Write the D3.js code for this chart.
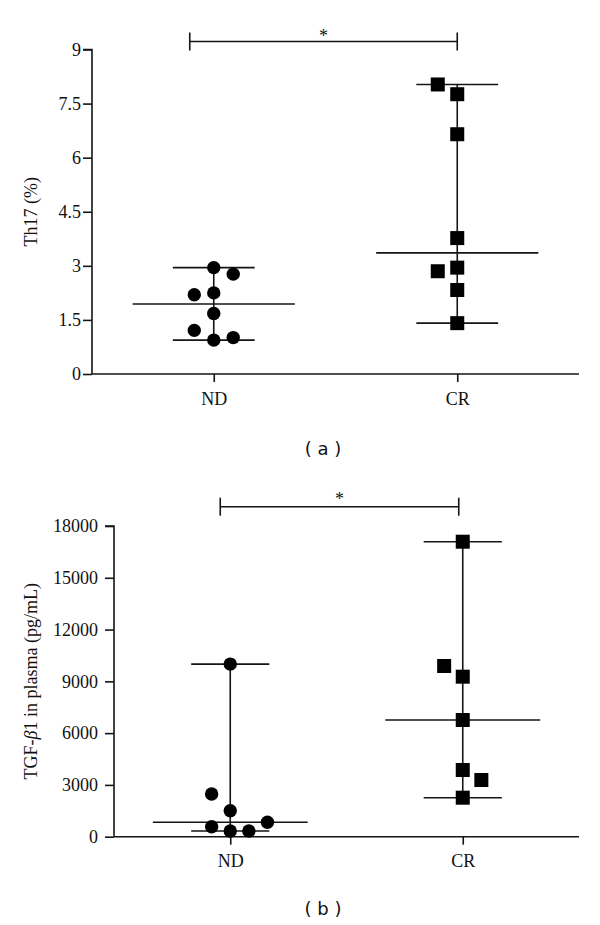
<!DOCTYPE html>
<html>
<head>
<meta charset="utf-8">
<script src="https://cdn.jsdelivr.net/npm/d3@7"></script>
<style>
  html, body { margin: 0; padding: 0; background: #fff; }
  svg { display: block; }
</style>
</head>
<body>
<svg id="chart" width="600" height="925"></svg>
<script>
// ---------- data ----------
const categories = ["ND", "CR"];

// Panel (a): Th17 (%)
const th17ND     = [2.95, 2.77, 2.25, 2.20, 1.68, 1.21, 1.01, 0.94];
const th17NDSlot = [0, 1, 0, -1, 0, -1, 1, 0];
const th17CR     = [8.03, 7.76, 6.65, 3.77, 2.95, 2.85, 2.33, 1.41];
const th17CRSlot = [-1, 0, 0, 0, 0, -1, 0, 0];
const th17Ticks  = [0, 1.5, 3, 4.5, 6, 7.5, 9];

// Panel (b): TGF-β1 in plasma (pg/mL)
const tgfND     = [10000, 2474, 1506, 834, 580, 330, 330];
const tgfNDSlot = [0, -1, 0, 2, -1, 0, 1];
const tgfCR     = [17090, 9890, 9270, 6761, 3864, 3284, 2260];
const tgfCRSlot = [0, -1, 0, 0, 0, 1, 0];
const tgfTicks  = [0, 3000, 6000, 9000, 12000, 15000, 18000];

// ---------- drawing ----------
const svg = d3.select("#chart");
const INK = "#151515";
const SERIF = "'Liberation Serif', 'Times New Roman', serif";
const SANS = "'DejaVu Sans', Verdana, sans-serif";

function panel(cfg) {
  const g = svg.append("g");
  const x = d3.scalePoint().domain(categories).range([cfg.x0, cfg.x1]).padding(0.5);
  const step = x.step();
  const y = d3.scaleLinear().domain([0, cfg.max]).range([cfg.y0, cfg.y1]);

  // y axis
  const ya = g.append("g").attr("transform", `translate(${cfg.x0},0)`)
    .call(d3.axisLeft(y).tickValues(cfg.ticks).tickSize(9).tickPadding(cfg.tickPad).tickFormat(d => String(d)));
  ya.select(".domain").attr("d", `M-9,${y(cfg.max)}H0V${y(0)}`);
  // x axis
  const xa = g.append("g").attr("transform", `translate(0,${cfg.y0})`)
    .call(d3.axisBottom(x).tickSize(8).tickPadding(10));
  xa.select(".domain").attr("d", `M${cfg.x0},0H${cfg.x1}`);
  [ya, xa].forEach(a => {
    a.attr("font-family", SERIF).attr("font-size", 18);
    a.selectAll("path, line").attr("stroke", INK).attr("stroke-width", 1.6);
    a.selectAll("text").attr("font-family", SERIF).attr("font-size", 18).attr("fill", "#111");
  });

  // axis title
  const t = g.append("text").attr("font-family", SERIF).attr("fill", "#111")
    .attr("transform", `translate(${cfg.titleX},${(y(0) + y(cfg.max)) / 2}) rotate(-90)`)
    .attr("text-anchor", "middle").attr("dy", "0.33em").attr("font-size", 18);
  cfg.title(t);

  // groups
  cfg.groups.forEach(gr => {
    const cx = x(gr.cat);
    const vals = gr.values;
    const med = d3.median(vals), lo = d3.min(vals), hi = d3.max(vals);
    const lg = g.append("g").attr("stroke", INK).attr("stroke-width", 1.6);
    lg.append("line").attr("x1", cx).attr("x2", cx).attr("y1", y(hi)).attr("y2", y(lo));
    [hi, lo].forEach(v => lg.append("line")
      .attr("x1", cx - step * 0.168).attr("x2", cx + step * 0.168)
      .attr("y1", y(v)).attr("y2", y(v)));
    lg.append("line").attr("x1", cx - step * 0.333).attr("x2", cx + step * 0.333)
      .attr("y1", y(med)).attr("y2", y(med));

    const pts = vals.map((v, i) => ({ v, px: cx + gr.slots[i] * step * 0.08 }));
    if (gr.shape === "circle") {
      g.selectAll(null).data(pts).enter().append("circle")
        .attr("cx", d => d.px).attr("cy", d => y(d.v)).attr("r", 6.7).attr("fill", "#000");
    } else {
      g.selectAll(null).data(pts).enter().append("rect")
        .attr("x", d => d.px - 7).attr("y", d => y(d.v) - 7)
        .attr("width", 14).attr("height", 14).attr("fill", "#000");
    }
  });

  // significance bar
  const bx1 = x("ND") + cfg.sigL, bx2 = x("CR") + cfg.sigR, by = y(cfg.max) - cfg.sigUp;
  const sg = g.append("g").attr("stroke", INK).attr("stroke-width", 1.6);
  sg.append("line").attr("x1", bx1).attr("x2", bx2).attr("y1", by).attr("y2", by);
  [bx1, bx2].forEach(bx => sg.append("line").attr("x1", bx).attr("x2", bx).attr("y1", by - 9).attr("y2", by + 9));
  g.append("text").attr("font-family", SERIF).attr("fill", "#111")
    .attr("x", (bx1 + bx2) / 2).attr("y", by + cfg.starDy)
    .attr("text-anchor", "middle").attr("font-size", 18).text("*");

  // caption
  g.append("text").attr("font-family", SANS).attr("fill", "#111").attr("x", 323).attr("y", cfg.capY)
    .attr("text-anchor", "middle").attr("dy", "0.35em").attr("font-size", 18).text(cfg.caption);
}

panel({
  x0: 92, x1: 579, y0: 374, y1: 49.5, max: 9, ticks: th17Ticks, tickPad: 2,
  titleX: 31,
  title: t => t.text("Th17 (%)"),
  groups: [
    { cat: "ND", values: th17ND, slots: th17NDSlot, shape: "circle" },
    { cat: "CR", values: th17CR, slots: th17CRSlot, shape: "square" }
  ],
  sigL: -24, sigR: 0, sigUp: 8, starDy: 0,
  caption: "( a )", capY: 449
});

panel({
  x0: 114, x1: 579, y0: 836.7, y1: 526, max: 18000, ticks: tgfTicks, tickPad: 7,
  titleX: 31,
  title: t => {
    t.append("tspan").text("TGF-");
    t.append("tspan").attr("font-style", "italic").text("β");
    t.append("tspan").text("1 in plasma (pg/mL)");
  },
  groups: [
    { cat: "ND", values: tgfND, slots: tgfNDSlot, shape: "circle" },
    { cat: "CR", values: tgfCR, slots: tgfCRSlot, shape: "square" }
  ],
  sigL: -10, sigR: -4, sigUp: 19.3, starDy: -2,
  caption: "( b )", capY: 909
});
</script>
</body>
</html>
